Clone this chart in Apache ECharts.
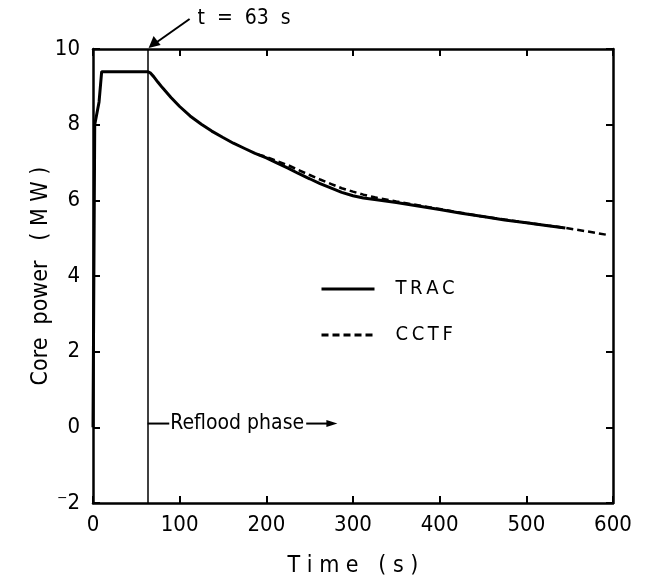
<!DOCTYPE html>
<html>
<head>
<meta charset="utf-8">
<script src="https://cdn.jsdelivr.net/npm/echarts@6/dist/echarts.min.js"></script>
<style>
  html, body { margin: 0; padding: 0; background: #fff; }
  #chart { width: 648px; height: 583px; }
</style>
</head>
<body>
<div id="chart"></div>
<script>
// Core power history, TRAC calculation vs CCTF measurement
const tracTime  = [0, 2, 7, 10, 20, 40, 63, 66, 70, 75, 80, 90, 100, 112, 125, 137, 150, 162, 175, 187, 200,
                   212, 225, 237, 250, 262, 275, 287, 300, 312, 325, 350, 375, 400, 425, 450, 475, 500, 525, 545];
const tracPower = [0, 8.0, 8.6, 9.4, 9.4, 9.4, 9.4, 9.37, 9.27, 9.12, 8.98, 8.72, 8.48, 8.23, 8.01, 7.83, 7.66, 7.51, 7.37, 7.24, 7.12,
                   6.99, 6.85, 6.71, 6.57, 6.44, 6.32, 6.21, 6.12, 6.06, 6.02, 5.94, 5.85, 5.76, 5.66, 5.57, 5.48, 5.41, 5.33, 5.27];
const cctfTime  = [190, 200, 212, 225, 237, 250, 262, 275, 287, 300, 312, 325, 350, 375, 400, 450, 500, 545, 570, 595];
const cctfPower = [7.21, 7.15, 7.04, 6.93, 6.8, 6.67, 6.55, 6.43, 6.32, 6.23, 6.15, 6.08, 5.97, 5.87, 5.77, 5.57, 5.41, 5.27, 5.18, 5.08];
const xTicks = [0, 100, 200, 300, 400, 500, 600];
const yTicks = [-2, 0, 2, 4, 6, 8, 10];
const refloodStart = 63;

const FONT = "'Liberation Sans Narrow', 'DejaVu Sans Condensed', sans-serif";
const zip = (xs, ys) => xs.map((x, i) => [x, ys[i]]);
const spaced = s => s.split('').join('\u2009');

const chart = echarts.init(document.getElementById('chart'), null, { renderer: 'canvas' });

const axisCommon = {
  type: 'value',
  axisLine: { show: true, onZero: false, lineStyle: { color: '#000', width: 2.5 } },
  axisTick: { show: true, inside: true, length: 7, lineStyle: { color: '#000', width: 2 } },
  splitLine: { show: false }
};

chart.setOption({
  animation: false,
  backgroundColor: '#fff',
  color: ['#000', '#000'],
  grid: { left: 93, right: 35, top: 49, bottom: 80 },
  xAxis: [
    Object.assign({}, axisCommon, {
      min: 0, max: 600, interval: 100, position: 'bottom',
      name: 'T i m e   ( s )', nameLocation: 'middle', nameGap: 52,
      nameTextStyle: { fontFamily: FONT, fontSize: 23, color: '#000' },
      axisLabel: { fontFamily: FONT, fontSize: 22, color: '#000', margin: 11,
        formatter: v => xTicks.includes(v) ? String(v) : '' }
    }),
    Object.assign({}, axisCommon, {
      min: 0, max: 600, interval: 100, position: 'top', axisLabel: { show: false }
    })
  ],
  yAxis: [
    Object.assign({}, axisCommon, {
      min: -2, max: 10, interval: 2, position: 'left',
      name: 'Core  power   ( M W )', nameLocation: 'middle', nameGap: 40, nameMoveOverlap: false,
      nameTextStyle: { fontFamily: FONT, fontSize: 23, color: '#000' },
      axisLabel: { fontFamily: FONT, fontSize: 22, color: '#000', margin: 13,
        formatter: v => yTicks.includes(v) ? (v < 0 ? '\u207B' + Math.abs(v) : String(v)) : '' }
    }),
    Object.assign({}, axisCommon, {
      min: -2, max: 10, interval: 2, position: 'right', axisLabel: { show: false }
    })
  ],
  legend: {
    orient: 'vertical', left: 315, top: 274, itemWidth: 53, itemHeight: 12, itemGap: 26,
    itemStyle: { opacity: 0 },
    lineStyle: { width: 3 },
    textStyle: { fontFamily: FONT, fontSize: 20, color: '#000', padding: [0, 0, 0, 16] },
    formatter: name => spaced(name),
    data: ['TRAC', 'CCTF']
  },
  series: [
    {
      name: 'TRAC', type: 'line', data: zip(tracTime, tracPower),
      showSymbol: false, symbol: 'none', z: 3,
      itemStyle: { color: '#000' },
      lineStyle: { color: '#000', width: 3 },
      markLine: {
        silent: true, symbol: 'none', label: { show: false },
        lineStyle: { color: '#000', width: 1.5, type: 'solid' },
        data: [{ xAxis: refloodStart }]
      }
    },
    {
      name: 'CCTF', type: 'line', data: zip(cctfTime, cctfPower),
      showSymbol: false, symbol: 'none', z: 2,
      itemStyle: { color: '#000' },
      lineStyle: { color: '#000', width: 2.5, type: [7, 4] }
    }
  ]
});

// Annotations anchored in data coordinates
function px(x, y) { return chart.convertToPixel({ xAxisIndex: 0, yAxisIndex: 0 }, [x, y]); }
const r0 = px(refloodStart, 0.1), r1 = px(88, 0.1), r2 = px(246, 0.1), r3 = px(282, 0.1);
const tTop = px(refloodStart, 10);
const elements = [
  { type: 'line', shape: { x1: r0[0], y1: r0[1], x2: r1[0], y2: r1[1] }, style: { stroke: '#000', lineWidth: 2 } },
  { type: 'text', style: { x: r1[0] + 1, y: r0[1], text: 'Reflood phase', fontFamily: FONT, fontSize: 21,
      fill: '#000', textVerticalAlign: 'middle', verticalAlign: 'middle' } },
  { type: 'line', shape: { x1: r2[0], y1: r2[1], x2: r3[0] - 6, y2: r3[1] }, style: { stroke: '#000', lineWidth: 2 } },
  { type: 'polygon', shape: { points: [[r3[0], r3[1]], [r3[0] - 11, r3[1] - 3.5], [r3[0] - 11, r3[1] + 3.5]] }, style: { fill: '#000' } },
  // arrow pointing to the start of reflood
  { type: 'line', shape: { x1: tTop[0] + 42, y1: tTop[1] - 30, x2: tTop[0] + 8, y2: tTop[1] - 6 }, style: { stroke: '#000', lineWidth: 2 } },
  { type: 'polygon', shape: { points: [[tTop[0] + 1, tTop[1] - 1], [tTop[0] + 6, tTop[1] - 13], [tTop[0] + 13, tTop[1] - 4]] }, style: { fill: '#000' } },
  { type: 'text', style: { x: tTop[0] + 50, y: tTop[1] - 30, text: 't  =  63  s', fontFamily: FONT, fontSize: 21,
      fill: '#000', verticalAlign: 'middle', textVerticalAlign: 'middle' } }
];
chart.setOption({ graphic: { elements: elements } });
</script>
</body>
</html>
